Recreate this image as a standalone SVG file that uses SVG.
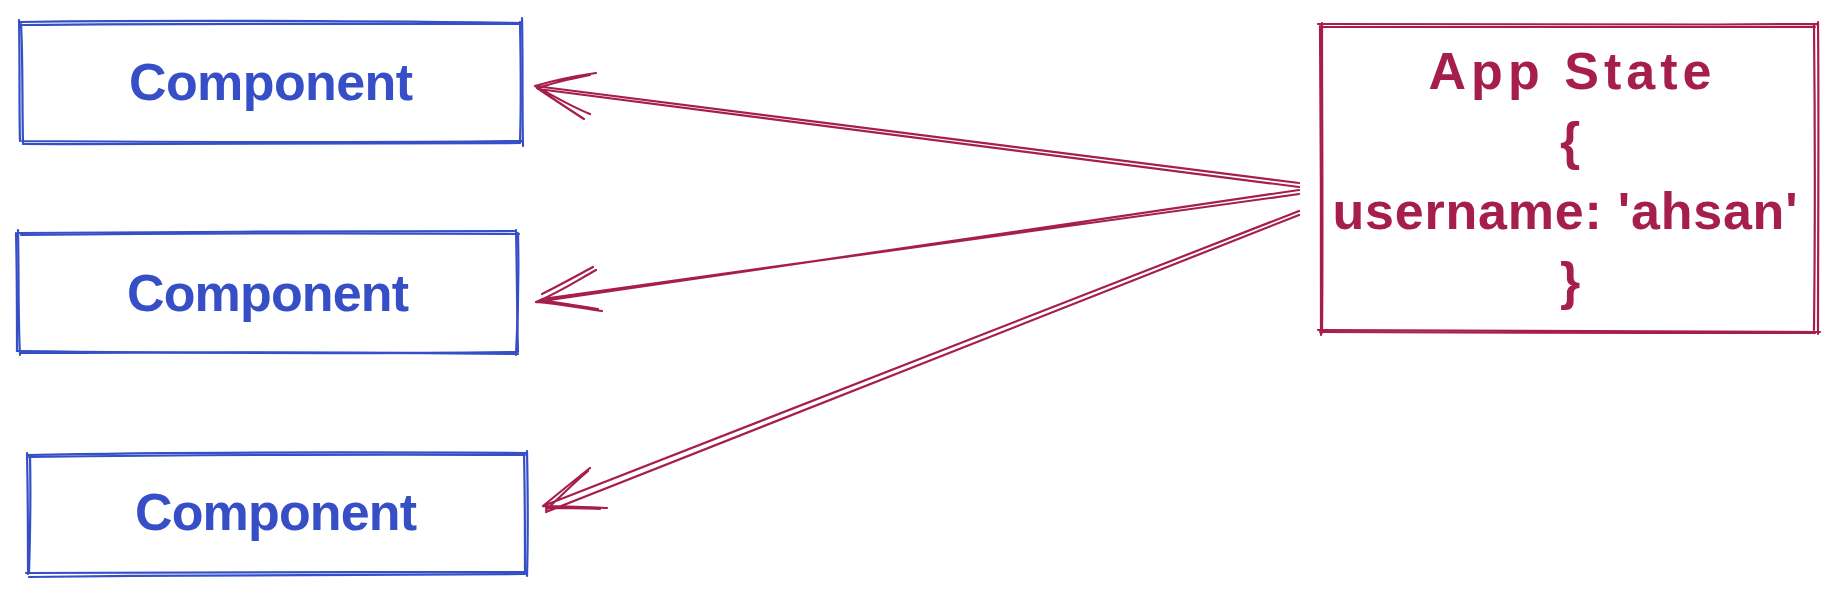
<svg xmlns="http://www.w3.org/2000/svg" width="1838" height="596" viewBox="0 0 1838 596">
  <style>
    .cb{fill:none;stroke:#364fc7;stroke-width:2.2;stroke-linecap:round;stroke-linejoin:round}
    .cr{fill:none;stroke:#a61e4d;stroke-width:2.2;stroke-linecap:round;stroke-linejoin:round}
    .tb{font-family:"Liberation Sans","Noto Sans",sans-serif;font-size:52px;font-weight:bold;fill:#364fc7;text-anchor:middle}
    .tr{font-family:"Liberation Sans","Noto Sans",sans-serif;font-size:52px;font-weight:bold;fill:#a61e4d;text-anchor:middle}
  </style>
  <rect width="1838" height="596" fill="#ffffff"/>

  <g id="component-1">
    <path class="cb" d="M20 22 C180 20 360 21 522 23 M522 18 C523 60 522 100 523 146 M522 141 C360 143 180 142 22 141 M21 24 C23 60 22 100 23 143"/>
    <path class="cb" d="M22 25 C200 23 380 24 520 24 M520 22 C521 70 521 110 520 143 M520 143 C380 144 200 145 23 144 M19 20 C20 70 19 110 20 141" stroke-width="1.3"/>
    <text class="tb" x="271" y="100" textLength="284" lengthAdjust="spacing">Component</text>
  </g>

  <g id="component-2">
    <path class="cb" d="M19 233 C180 232 360 231 516 231 M518 233 C519 280 518 320 516 355 M516 352 C360 354 180 353 17 351 M18 230 C19 280 18 320 20 355"/>
    <path class="cb" d="M21 235 C200 233 380 233 519 234 M516 230 C517 270 517 320 518 352 M518 354 C380 352 200 352 20 353 M16 233 C17 270 17 320 17 351" stroke-width="1.3"/>
    <text class="tb" x="268" y="311" textLength="282" lengthAdjust="spacing">Component</text>
  </g>

  <g id="component-3">
    <path class="cb" d="M27 455 C180 452 360 452 527 453 M527 451 C528 500 528 540 527 576 M527 572 C360 572 180 572 26 573 M27 453 C28 500 28 540 28 574"/>
    <path class="cb" d="M29 457 C200 455 380 454 525 455 M524 453 C525 500 525 540 525 574 M524 574 C380 574 200 575 29 577 M30 455 C31 500 30 540 29 573" stroke-width="1.3"/>
    <text class="tb" x="276" y="530" textLength="282" lengthAdjust="spacing">Component</text>
  </g>

  <g id="app-state">
    <path class="cr" d="M1318 24 C1480 25 1650 25 1818 24 M1818 22 C1819 120 1818 240 1818 334 M1820 332 C1650 331 1480 331 1318 330 M1320 26 C1321 120 1321 240 1321 335"/>
    <path class="cr" d="M1320 27 C1500 27 1660 26 1815 27 M1814 25 C1815 120 1815 240 1814 330 M1815 333 C1650 333 1480 333 1320 332 M1322 23 C1322 120 1323 240 1322 333" stroke-width="1.3"/>
    <text class="tr" x="1570" y="89" textLength="283" lengthAdjust="spacing">App State</text>
    <text class="tr" x="1570" y="159">{</text>
    <text class="tr" x="1565" y="229" textLength="465" lengthAdjust="spacing">username: 'ahsan'</text>
    <text class="tr" x="1570" y="299">}</text>
  </g>

  <g id="connectors">
    <path class="cr" d="M1299 183 L535 86 M1299 187 L538 89 M535 86 C555 80 575 76 596 73 M538 88 C555 82 575 78 590 75 M535 86 C552 95 570 106 590 114 M537 88 C555 100 570 110 584 119" stroke-width="1.8"/>
    <path class="cr" d="M1299 190 L536 302 M1299 194 L542 299 M536 302 C560 292 578 280 596 270 M542 294 C560 285 578 275 593 267 M536 302 C560 304 580 308 602 311 M540 300 C560 303 580 306 598 309" stroke-width="1.8"/>
    <path class="cr" d="M1299 211 L543 506 M1299 215 L546 512 M543 506 C560 492 575 480 590 468 M546 510 C562 495 576 481 588 471 M543 506 C565 506 585 507 607 508 M546 508 C565 508 585 508 600 509" stroke-width="1.8"/>
  </g>
</svg>
